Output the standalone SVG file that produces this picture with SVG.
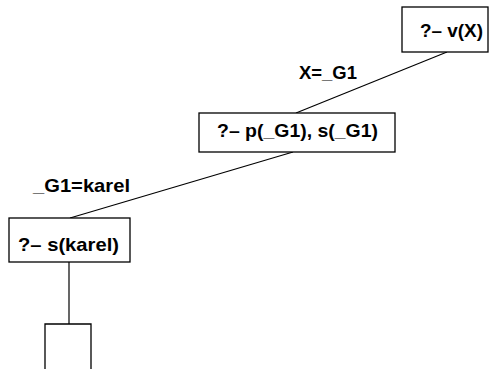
<svg xmlns="http://www.w3.org/2000/svg" width="490" height="369" viewBox="0 0 490 369">
<style>
.box{fill:#fff;stroke:#000;stroke-width:1.3}
.edge{stroke:#000;stroke-width:1.2;fill:none}
text{font-family:"Liberation Sans",Arial,sans-serif;font-weight:bold;font-size:19px;fill:#000}
</style>
<rect width="490" height="369" fill="#fff"/>
<g id="connectors">
<line class="edge" x1="447" y1="52" x2="296" y2="113"/>
<line class="edge" x1="293" y1="152" x2="70" y2="218"/>
<line class="edge" x1="69" y1="262" x2="69" y2="324"/>
</g>
<g id="labels">
<text x="299" y="79" textLength="58" lengthAdjust="spacingAndGlyphs">X=_G1</text>
<text x="33" y="192" textLength="97" lengthAdjust="spacingAndGlyphs">_G1=karel</text>
</g>
<g id="n1">
<rect class="box" x="402" y="7" width="86" height="45"/>
<text x="420" y="37" textLength="63" lengthAdjust="spacingAndGlyphs">?– v(X)</text>
</g>
<g id="n2">
<rect class="box" x="199" y="113" width="196" height="39"/>
<text x="217" y="137" textLength="161" lengthAdjust="spacingAndGlyphs">?– p(_G1), s(_G1)</text>
</g>
<g id="n3">
<rect class="box" x="9" y="218" width="121" height="44"/>
<text x="18" y="251" textLength="101" lengthAdjust="spacingAndGlyphs">?– s(karel)</text>
</g>
<g id="n4">
<path class="box" d="M45,370 V324 H91 V370"/>
</g>
</svg>
